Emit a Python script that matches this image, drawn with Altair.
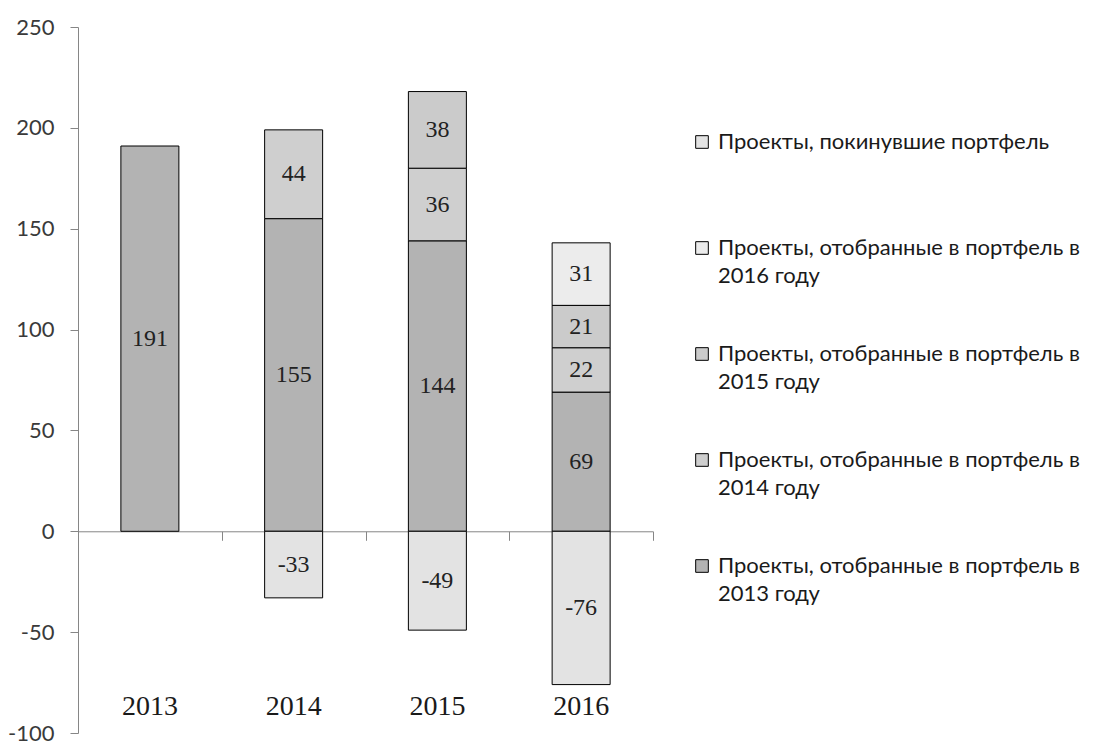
import altair as alt
import pandas as pd

# ---- data ----
years = ["2013", "2014", "2015", "2016"]
series_names = [
    "Проекты, отобранные в портфель в\n2013 году",
    "Проекты, отобранные в портфель в\n2014 году",
    "Проекты, отобранные в портфель в\n2015 году",
    "Проекты, отобранные в портфель в\n2016 году",
    "Проекты, покинувшие портфель\n ",
]
sel_2013 = [191, 155, 144, 69]
sel_2014 = [None, 44, 36, 22]
sel_2015 = [None, None, 38, 21]
sel_2016 = [None, None, None, 31]
left_portfolio = [None, -33, -49, -76]
y_ticks = [-100, -50, 0, 50, 100, 150, 200, 250]
y_domain = [-100, 250]

columns = [sel_2013, sel_2014, sel_2015, sel_2016, left_portfolio]
rows = []
for order, (name, vals) in enumerate(zip(series_names, columns)):
    for year, v in zip(years, vals):
        if v is not None:
            rows.append({"year": year, "series": name, "value": v, "order": order})
df = pd.DataFrame(rows)

legend_order = series_names[::-1]
fill_range = ["#e3e3e3", "#ececec", "#cbcbcb", "#cfcfcf", "#b3b3b3"]

W, H = 575, 706
zero_y = H * y_domain[1] / (y_domain[1] - y_domain[0])
AXIS_GRAY = "#868686"
SANS = "Lato"
SERIF = "Liberation Serif"

base = alt.Chart(df).transform_stack(
    stack="value", groupby=["year"], sort=[alt.SortField("order")], as_=["y0", "y1"]
).transform_calculate(
    mid="(datum.y0 + datum.y1) / 2",
    label="'' + datum.value",
)

y_axis = alt.Axis(values=y_ticks, title=None, grid=False, domainColor=AXIS_GRAY,
                  tickColor=AXIS_GRAY, tickSize=8, labelFont=SANS, labelFontSize=22,
                  labelColor="#3a3a3a", labelPadding=16,
                  labelExpr="'' + datum.value")
y_scale = alt.Scale(domain=y_domain, nice=False, zero=False)
x_scale = alt.Scale(domain=years, paddingInner=0, paddingOuter=0)

zero_axis = alt.Axis(orient="bottom", offset=-(H - zero_y), labels=False, ticks=True,
                     tickBand="extent", tickSize=9, tickColor=AXIS_GRAY,
                     domainColor=AXIS_GRAY, title=None, grid=False)
label_axis = alt.Axis(orient="bottom", domain=False, ticks=False, tickSize=0,
                      labelPadding=-41, labelFont=SERIF, labelFontSize=28,
                      labelColor="#1a1a1a", labelAngle=0, title=None, grid=False)

bars = base.mark_bar(size=58, stroke="black", strokeWidth=1).encode(
    x=alt.X("year:N", scale=x_scale, axis=zero_axis),
    y=alt.Y("y0:Q", scale=y_scale, axis=y_axis),
    y2="y1:Q",
    fill=alt.Fill(
        "series:N",
        scale=alt.Scale(domain=legend_order, range=fill_range),
        legend=alt.Legend(
            orient="none", legendX=613, legendY=104, title=None,
            symbolType="square", symbolSize=160, symbolStrokeColor="black",
            symbolStrokeWidth=1, labelFont=SANS, labelFontSize=22,
            labelColor="#1a1a1a", labelLimit=0, labelOffset=5, rowPadding=56,
            labelExpr="split(datum.label, '\\n')",
        ),
    ),
)

labels = base.mark_text(font=SERIF, fontSize=24, color="#222222").encode(
    x=alt.X("year:N", scale=x_scale, axis=label_axis),
    y=alt.Y("mid:Q", scale=y_scale, axis=y_axis),
    text="label:N",
)

chart = alt.layer(bars, labels).resolve_axis(x="independent").properties(
    width=W, height=H,
    autosize="none",
    padding={"left": 70, "top": 19, "right": 438, "bottom": 11},
).configure(style={"guide-label": {"lineHeight": 28}}).configure_view(stroke=None)

chart.save("out.html", embed_options={"renderer": "svg", "actions": False})
